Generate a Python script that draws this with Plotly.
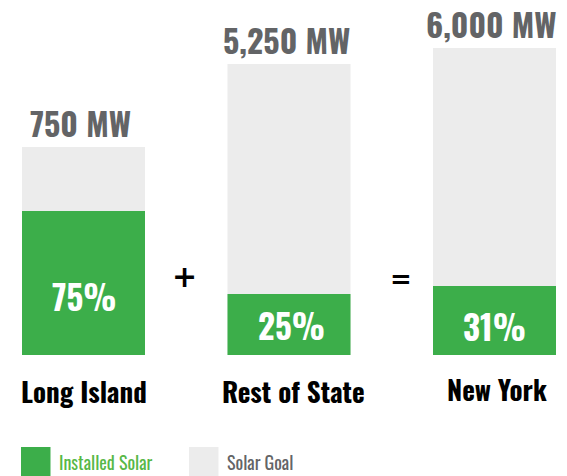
import plotly.graph_objs as go

# Daten
regions = ['Long Island', 'Rest of State', 'New York']
goal_labels = ['750 MW', '5,250 MW', '6,000 MW']
installed_labels = ['75%', '25%', '31%']
goal_height = [208, 291, 307]        # gezeichnete Balkenhöhe Ziel
installed_height = [144, 61, 69]     # gezeichnete Balkenhöhe installiert
operators = ['+', '=']

GREEN = '#3cae4a'
GOAL_GRAY = '#ececec'
TEXT_GRAY = '#636466'
FONT = 'Oswald, Roboto Condensed, DejaVu Sans Condensed, sans-serif'

# Seite hat 8px Body-Rand -> Figur etwas kleiner als das Fenster
OFF = 8
W, H = 567 - OFF, 476 - OFF
x_pos = list(range(len(regions)))
STEP = 205.5          # Pixel pro Balkenabstand
X0 = 83.5 - OFF       # Pixelposition des ersten Balkens


def px_x(p):
    return (p - OFF) / W


def px_y(p):
    return 1 - (p - OFF) / H


fig = go.Figure()

# Ziel (grauer Hintergrundbalken)
fig.add_trace(
    go.Bar(
        x=x_pos,
        y=goal_height,
        name='Solar Goal',
        marker=dict(color=GOAL_GRAY, line=dict(width=0)),
        width=123 / STEP,
        hoverinfo='skip'
    )
)

# Installiert (grüner Balken)
fig.add_trace(
    go.Bar(
        x=x_pos,
        y=installed_height,
        name='Installed Solar',
        marker=dict(color=GREEN, line=dict(width=0)),
        width=123 / STEP,
        hoverinfo='skip'
    )
)

annotations = []

# MW-Beschriftung über den Balken
mw_yshift = [25, 25, 25]
for i, lab in enumerate(goal_labels):
    annotations.append(dict(
        x=x_pos[i], y=goal_height[i], xref='x', yref='y',
        text=lab, showarrow=False, xanchor='center', yanchor='middle',
        xshift=-3, yshift=mw_yshift[i],
        font=dict(family=FONT, size=32, color=TEXT_GRAY, weight='bold')
    ))

# Prozentwerte im grünen Balken
pct_shift = [0, 2, 0]
pct_y = [59, 30, 29]
for i, lab in enumerate(installed_labels):
    annotations.append(dict(
        x=x_pos[i], y=pct_y[i], xref='x', yref='y',
        text=lab, showarrow=False, xanchor='center', yanchor='middle',
        xshift=pct_shift[i],
        font=dict(family=FONT, size=33, color='white', weight='bold')
    ))

# Regionsnamen unter den Balken
name_shift = [0, 4, 2]
name_y = [-36, -35.5, -34]
for i, lab in enumerate(regions):
    annotations.append(dict(
        x=x_pos[i], y=name_y[i], xref='x', yref='y',
        text=lab, showarrow=False, xanchor='center', yanchor='middle',
        xshift=name_shift[i],
        font=dict(family=FONT, size=27, color='black', weight='bold')
    ))

# + und =
op_pos = [(184.5, 276, 30), (401, 279, 26)]
for op, (ox, oy, fs) in zip(operators, op_pos):
    annotations.append(dict(
        x=px_x(ox), y=px_y(oy), xref='paper', yref='paper',
        text=op, showarrow=False, xanchor='center', yanchor='middle',
        font=dict(family='DejaVu Sans', size=fs, color='black', weight='bold')
    ))

# Legende
legend_items = [('Installed Solar', GREEN, '#57b847', 21), ('Solar Goal', GOAL_GRAY, TEXT_GRAY, 189)]
shapes = []
for name, box_color, txt_color, lx in legend_items:
    shapes.append(dict(
        type='rect', xref='paper', yref='paper',
        x0=px_x(lx), x1=px_x(lx + 29.5), y0=px_y(476), y1=px_y(447),
        fillcolor=box_color, line=dict(width=0)
    ))
    annotations.append(dict(
        x=px_x(lx + 36), y=px_y(462), xref='paper', yref='paper',
        text=name, showarrow=False, xanchor='left', yanchor='middle',
        font=dict(family=FONT, size=18, color=txt_color)
    ))

fig.update_layout(
    width=W,
    height=H,
    margin=dict(l=0, r=0, t=0, b=0),
    barmode='overlay',
    showlegend=False,
    plot_bgcolor='white',
    paper_bgcolor='white',
    xaxis=dict(range=[-X0 / STEP, (W - X0) / STEP], visible=False, fixedrange=True),
    yaxis=dict(range=[-121, 355 - OFF], visible=False, fixedrange=True),
    annotations=annotations,
    shapes=shapes
)

fig.write_html('out.html')
